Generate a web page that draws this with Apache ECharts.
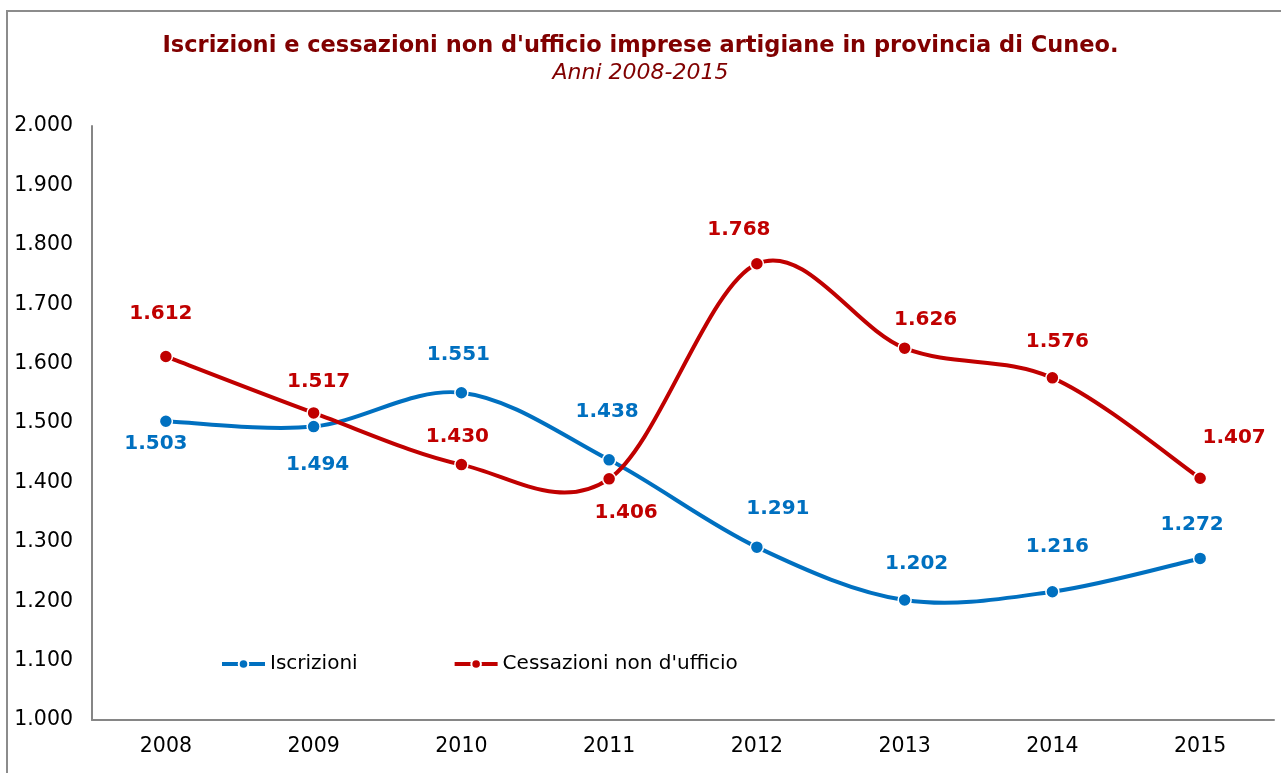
<!DOCTYPE html>
<html><head><meta charset="utf-8">
<script src="https://cdn.jsdelivr.net/npm/echarts@6/dist/echarts.min.js"></script>
<style>html,body{margin:0;padding:0;background:#fff}#c{width:1281px;height:773px}</style>
</head><body><div id="c"></div>
<script>
const years = ['2008','2009','2010','2011','2012','2013','2014','2015'];
const iscrizioni = [1503, 1494, 1551, 1438, 1291, 1202, 1216, 1272];
const cessazioni = [1612, 1517, 1430, 1406, 1768, 1626, 1576, 1407];
// label placement (pixel offsets from each point), style only
const iscrLabelOffset = [[-10,23],[4,38],[-3,-38],[-2,-48],[21,-38],[12,-36],[5,-45],[-8,-34]];
const cessLabelOffset = [[-5,-43],[5,-31],[-4,-28],[17,34],[-18,-34],[21,-28],[5,-36],[34,-40]];

const fmt = v => { v = Math.round(v); return Math.floor(v/1000) + '.' + String(v % 1000).padStart(3,'0'); };
const FONT = 'DejaVu Sans';
const BLUE = '#0070C0', RED = '#C00000';

function build(vals, offs){
  return vals.map((v,i)=>({value:v, label:{position:'inside', offset:offs[i]}}));
}

// Excel-like smoothed curve (Catmull-Rom style Bezier) drawn through the library's own coordinate system
function curveSeries(vals, color, name){
  return {
    name:name, type:'custom', z:2, silent:true,
    data: vals.map((v,i)=>[i,v]),
    encode:{x:0, y:1},
    renderItem:function(params, api){
      const i = params.dataIndex;
      const n = vals.length;
      if (i >= n-1) return null;
      const P = j => api.coord([Math.max(0,Math.min(n-1,j)), vals[Math.max(0,Math.min(n-1,j))]]);
      const p0 = P(i-1), p1 = P(i), p2 = P(i+1), p3 = P(i+2);
      const k = 1/6;
      return {
        type:'bezierCurve',
        shape:{x1:p1[0], y1:p1[1], x2:p2[0], y2:p2[1],
               cpx1:p1[0]+(p2[0]-p0[0])*k, cpy1:p1[1]+(p2[1]-p0[1])*k,
               cpx2:p2[0]-(p3[0]-p1[0])*k, cpy2:p2[1]-(p3[1]-p1[1])*k},
        style:{stroke:color, lineWidth:4, fill:null, lineCap:'round'}
      };
    }
  };
}

const labelBase = {show:true, fontFamily:FONT, fontWeight:'bold', fontSize:20, formatter:p=>fmt(p.value)};

const chart = echarts.init(document.getElementById('c'));
chart.setOption({
  animation:false,
  backgroundColor:'#fff',
  textStyle:{fontFamily:FONT},
  graphic:[{type:'rect', shape:{x:7,y:11,width:1300,height:800}, style:{fill:'none', stroke:'#8c8c8c', lineWidth:2}, silent:true}],
  title:{
    text:"Iscrizioni e cessazioni non d'ufficio imprese artigiane in provincia di Cuneo.",
    subtext:'Anni 2008-2015',
    left:'center', top:30, itemGap:4,
    textStyle:{fontFamily:FONT, fontWeight:'bold', fontSize:22.5, color:'#800000'},
    subtextStyle:{fontFamily:FONT, fontStyle:'italic', fontSize:22, color:'#800000'}
  },
  legend:{
    left:215, top:649, itemGap:95, itemWidth:43, itemHeight:12,
    lineStyle:{width:4, opacity:1},
    textStyle:{fontFamily:FONT, fontSize:20, color:'#000', padding:[0,0,0,0]},
    data:['Iscrizioni', "Cessazioni non d'ufficio"]
  },
  grid:{left:92, right:7, top:126, bottom:53},
  xAxis:{
    type:'category', data:years, boundaryGap:true,
    axisLine:{lineStyle:{color:'#868686', width:2}},
    axisTick:{show:false},
    axisLabel:{fontFamily:FONT, fontSize:20.5, color:'#000', margin:16}
  },
  yAxis:{
    type:'value', min:1000, max:2000, interval:100,
    splitLine:{show:false},
    axisLine:{show:true, lineStyle:{color:'#868686', width:2}},
    axisTick:{show:false},
    axisLabel:{fontFamily:FONT, fontSize:20.5, color:'#000', margin:19, formatter:fmt}
  },
  series:[
    curveSeries(iscrizioni, BLUE, '_curveIscr'),
    curveSeries(cessazioni, RED, '_curveCess'),
    {name:'Iscrizioni', type:'line', z:3, data:build(iscrizioni, iscrLabelOffset),
     symbol:'circle', symbolSize:13,
     lineStyle:{color:BLUE, width:4, opacity:0}, itemStyle:{color:BLUE, borderColor:'#fff', borderWidth:1.5},
     label:Object.assign({color:BLUE}, labelBase)},
    {name:"Cessazioni non d'ufficio", type:'line', z:3, data:build(cessazioni, cessLabelOffset),
     symbol:'circle', symbolSize:13,
     lineStyle:{color:RED, width:4, opacity:0}, itemStyle:{color:RED, borderColor:'#fff', borderWidth:1.5},
     label:Object.assign({color:RED}, labelBase)}
  ]
});
</script></body></html>
